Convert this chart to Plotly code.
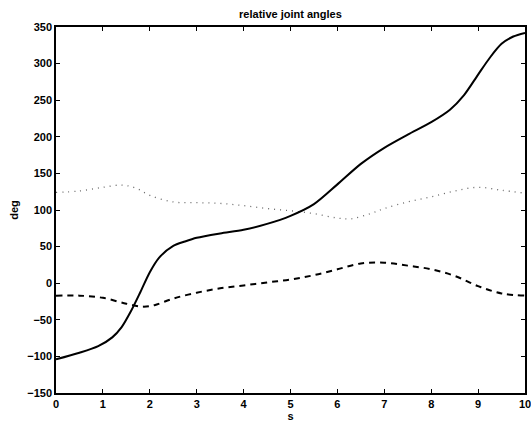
import plotly.graph_objects as go

# Joint angle trajectories over time (s) in degrees
t_solid = [0, 0.5, 0.9, 1.2, 1.4, 1.6, 1.8, 2.0, 2.2, 2.5, 2.75, 3.0, 3.5, 4.0, 4.5,
           5.0, 5.5, 6.0, 6.5, 7.0, 7.5, 8.0, 8.4, 8.7, 9.0, 9.25, 9.5, 9.75, 10.0]
joint1 = [-104, -95, -86, -74, -60, -38, -12, 15, 35, 51, 57, 62, 68, 73, 81,
          92, 108, 135, 163, 185, 203, 220, 237, 257, 285, 308, 327, 337, 342]

t_dash = [0, 0.5, 1.0, 1.5, 1.85, 2.1, 2.5, 3.0, 3.5, 4.0, 4.5, 5.0, 5.5, 6.0,
          6.5, 7.0, 7.5, 8.0, 8.5, 9.0, 9.5, 10.0]
joint2 = [-17, -17, -20, -28, -32, -30, -21, -13, -7, -3, 1, 5, 11, 19,
          27, 28, 24, 19, 10, -4, -14, -17]

t_dot = [0, 0.5, 1.0, 1.4, 1.7, 2.0, 2.5, 3.0, 3.5, 4.0, 4.5, 5.0, 5.5, 6.0,
         6.3, 6.7, 7.0, 7.5, 8.0, 8.5, 9.0, 9.5, 10.0]
joint3 = [124, 126, 131, 134, 130, 120, 111, 110, 109, 106, 102, 99, 95, 89,
          88, 95, 102, 111, 118, 126, 131, 127, 123]

x_ticks = [0, 1, 2, 3, 4, 5, 6, 7, 8, 9, 10]
y_ticks = [-150, -100, -50, 0, 50, 100, 150, 200, 250, 300, 350]

FONT = "Liberation Sans, Arial, sans-serif"

fig = go.Figure()
fig.add_trace(go.Scatter(x=t_dot, y=joint3, mode="lines", line_shape="spline",
                         line=dict(color="#666666", width=1.3, dash="1px,5px")))
fig.add_trace(go.Scatter(x=t_dash, y=joint2, mode="lines", line_shape="spline",
                         line=dict(color="black", width=2, dash="6px,5px")))
fig.add_trace(go.Scatter(x=t_solid, y=joint1, mode="lines", line_shape="spline",
                         line=dict(color="black", width=2, smoothing=0.8)))

axis_common = dict(
    showline=True, linecolor="black", linewidth=1.5, mirror="ticks",
    ticks="inside", ticklen=4, tickcolor="black", tickwidth=1.2,
    showgrid=False, zeroline=False, automargin=False, ticklabeloverflow="allow",
    tickfont=dict(family=FONT, size=11, color="black", weight="bold"),
)

fig.update_layout(
    width=531, height=423,
    margin=dict(l=56, r=6, t=27, b=30),
    paper_bgcolor="white", plot_bgcolor="white",
    showlegend=False,
    title=dict(text="relative joint angles", x=0.547, xanchor="center", y=0.975, yanchor="top",
               font=dict(family=FONT, size=11, color="black", weight="bold")),
    xaxis=dict(range=[0, 10], tickvals=x_ticks,
               title=dict(text="s", standoff=0,
                          font=dict(family=FONT, size=11, color="black", weight="bold")),
               **axis_common),
    yaxis=dict(range=[-150, 350], tickvals=y_ticks,
               title=dict(text="deg", standoff=6,
                          font=dict(family=FONT, size=11, color="black", weight="bold")),
               **axis_common),
)

fig.write_html("out.html")
